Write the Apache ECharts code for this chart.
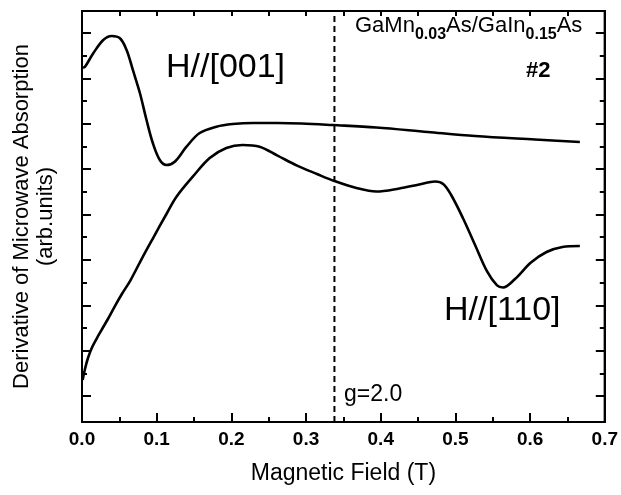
<!DOCTYPE html>
<html>
<head>
<meta charset="utf-8">
<script src="https://cdn.jsdelivr.net/npm/echarts@6/dist/echarts.min.js"></script>
<style>html,body{margin:0;padding:0;background:#fff}#c{width:621px;height:495px}</style>
</head>
<body>
<div id="c"></div>
<script>
// H//[001] curve
const field001 = [0.001,0.0040,0.0151,0.0285,0.0397,0.0508,0.0597,0.0681,0.0775,0.0864,0.0948,0.1042,0.1131,0.1242,0.1399,0.1576,0.1799,0.2017,0.2298,0.2618,0.2939,0.3353,0.3941,0.4630,0.5263,0.6065,0.6666];
const signal001 = [7.24,7.257,7.553,7.846,7.934,7.883,7.625,7.185,6.678,6.083,5.576,5.201,5.091,5.164,5.494,5.796,5.935,5.994,6.017,6.017,6.006,5.972,5.917,5.818,5.730,5.653,5.598];
// H//[110] curve
const field110 = [0.0009,0.0040,0.0080,0.0134,0.0200,0.0277,0.0347,0.0441,0.0534,0.0651,0.0798,0.0952,0.1131,0.1265,0.1483,0.1710,0.1933,0.2151,0.2378,0.2618,0.2880,0.3146,0.3380,0.3674,0.3941,0.4248,0.4515,0.4729,0.4836,0.4943,0.5103,0.5263,0.5424,0.5557,0.5637,0.5798,0.6011,0.6220,0.6432,0.6666];
const signal110 = [0.353,0.595,0.837,1.069,1.278,1.499,1.697,1.983,2.248,2.556,3.019,3.482,4.011,4.392,4.833,5.245,5.466,5.532,5.494,5.298,5.078,4.893,4.738,4.584,4.507,4.573,4.661,4.727,4.672,4.430,3.912,3.328,2.744,2.437,2.391,2.579,2.942,3.174,3.284,3.306];
// g=2.0 marker field
const gField = 0.338;
// axes
const xMin = 0, xMax = 0.7, xStep = 0.1;
const yMin = -0.573, yMax = 8.485;
const yMajorTicks = [0,1,2,3,4,5,6,7,8];
const yMinorTicks = [0.5,1.5,2.5,3.5,4.5,5.5,6.5,7.5];

const zip = (a, b) => a.map((v, i) => [v, b[i]]);
const FONT = 'Liberation Sans, Arial, Helvetica, sans-serif';

function yAx(pos, ticks, len) {
  return {
    type: 'value', position: pos, min: yMin, max: yMax,
    axisLine: {show: true, lineStyle: {color: '#000', width: 2}},
    axisTick: {show: true, inside: true, length: len, customValues: ticks, lineStyle: {color: '#000', width: 2}},
    axisLabel: {show: false},
    splitLine: {show: false}
  };
}
function note(text, left, top, size, weight) {
  return {text: text, left: left, top: top, padding: 0,
    textStyle: {fontFamily: FONT, fontSize: size, fontWeight: weight || 'normal', color: '#000', lineHeight: size}};
}

const yLeft = yAx('left', yMajorTicks, 9);
yLeft.name = 'Derivative of Microwave Absorption\n(arb.units)';
yLeft.nameLocation = 'middle';
yLeft.nameRotate = 90;
yLeft.nameGap = 24;
yLeft.nameTextStyle = {fontFamily: FONT, fontSize: 22, lineHeight: 24, color: '#000', align: 'center', verticalAlign: 'bottom'};

const chart = echarts.init(document.getElementById('c'));
chart.setOption({
  backgroundColor: '#fff',
  animation: false,
  title: [
    note('H//[001]', 166, 51, 34),
    note('H//[110]', 444, 294, 34),
    note('#2', 526, 60, 22, 'bold'),
    note('g=2.0', 344, 383, 23),
    {text: '{n|GaMn}{s|0.03}{n|As/GaIn}{s|0.15}{n|As}', left: 355, top: 13, padding: 0,
      textStyle: {fontWeight: 'normal', rich: {
        n: {fontFamily: FONT, fontSize: 22, fontWeight: 'normal', lineHeight: 25, color: '#000'},
        s: {fontFamily: FONT, fontSize: 16, fontWeight: 'bold', lineHeight: 16, padding: [19, 0, 0, 0], color: '#000'}
      }}}
  ],
  grid: {left: 82, right: 15, top: 11, bottom: 73, show: true, borderColor: '#000', borderWidth: 2},
  xAxis: [{
    type: 'value', position: 'bottom', min: xMin, max: xMax, interval: xStep,
    axisLine: {show: true, onZero: false, lineStyle: {color: '#000', width: 2}},
    axisTick: {show: true, inside: true, length: 9, lineStyle: {color: '#000', width: 2}},
    minorTick: {show: true, splitNumber: 2, length: 5, lineStyle: {color: '#000', width: 2}},
    axisLabel: {show: true, margin: 8, color: '#000', fontFamily: FONT, fontWeight: 'bold', fontSize: 19,
      formatter: v => v.toFixed(1)},
    splitLine: {show: false},
    name: 'Magnetic Field (T)', nameLocation: 'middle', nameGap: 40,
    nameTextStyle: {color: '#000', fontFamily: FONT, fontSize: 23}
  }, {
    type: 'value', position: 'top', min: xMin, max: xMax, interval: xStep / 2,
    axisLine: {show: true, onZero: false, lineStyle: {color: '#000', width: 2}},
    axisTick: {show: true, inside: true, length: 5, lineStyle: {color: '#000', width: 2}},
    axisLabel: {show: false},
    splitLine: {show: false}
  }],
  yAxis: [
    yLeft,
    yAx('left', yMinorTicks, 5),
    yAx('right', yMajorTicks, 9),
    yAx('right', yMinorTicks, 5)
  ],
  series: [{
    type: 'line', name: 'H//[001]', data: zip(field001, signal001),
    xAxisIndex: 0, yAxisIndex: 0, smooth: 0.35, showSymbol: false, symbol: 'none',
    lineStyle: {color: '#000', width: 2.6}
  }, {
    type: 'line', name: 'H//[110]', data: zip(field110, signal110),
    xAxisIndex: 0, yAxisIndex: 0, smooth: 0.35, showSymbol: false, symbol: 'none',
    lineStyle: {color: '#000', width: 2.6}
  }, {
    type: 'line', name: 'g=2.0', data: [[gField, yMin], [gField, yMax]],
    xAxisIndex: 0, yAxisIndex: 0, showSymbol: false, symbol: 'none',
    lineStyle: {color: '#000', width: 2, type: [6, 4]}
  }]
});

// Plot frame drawn from the grid's own pixel rectangle (safety net for the box outline)
const p0 = chart.convertToPixel({xAxisIndex: 0, yAxisIndex: 0}, [xMin, yMin]);
const p1 = chart.convertToPixel({xAxisIndex: 0, yAxisIndex: 0}, [xMax, yMax]);
chart.setOption({
  graphic: [{
    type: 'rect', z: 100, silent: true,
    shape: {x: p0[0], y: p1[1], width: p1[0] - p0[0], height: p0[1] - p1[1]},
    style: {fill: 'none', stroke: '#000', lineWidth: 2}
  }]
});
</script>
</body>
</html>
